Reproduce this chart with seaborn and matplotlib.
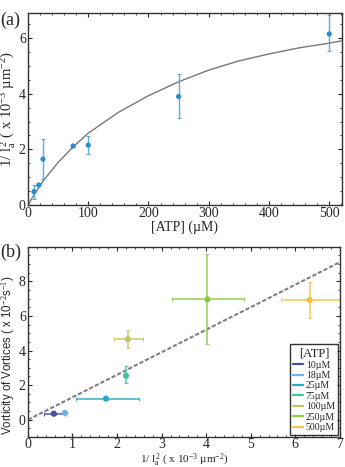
import numpy as np
import pandas as pd
import matplotlib
matplotlib.use("Agg")
import matplotlib.pyplot as plt
from matplotlib.ticker import MultipleLocator
import seaborn as sns

# ---- panel (a) data ----
atp = [10, 18, 25, 75, 100, 250, 500]
inv_la2 = [0.48, 0.72, 1.65, 2.12, 2.15, 3.90, 6.15]
inv_la2_err_lo = [0.25, 0.04, 0.70, 0.04, 0.30, 0.78, 0.60]
inv_la2_err_hi = [0.25, 0.04, 0.72, 0.04, 0.33, 0.80, 0.68]
fit_x = [0, 10, 25, 50, 75, 100, 150, 200, 250, 300, 350, 400, 450, 500, 520]
fit_y = [0, 0.36, 0.86, 1.53, 2.09, 2.58, 3.33, 3.93, 4.43, 4.85, 5.18, 5.43, 5.65, 5.82, 5.90]

# ---- panel (b) data ----
labels_b = ["10µM", "18µM", "25µM", "75µM", "100µM", "250µM", "500µM"]
colors_b = ["#4b4ba0", "#6ab4e6", "#2ba6c6", "#45c2a0", "#c2c46a", "#8acb45", "#f5c445"]
bx = [0.58, 0.83, 1.75, 2.20, 2.24, 4.03, 6.32]
by = [0.35, 0.40, 1.22, 2.55, 4.65, 6.95, 6.92]
bx_err_lo = [0.23, 0.02, 0.68, 0.02, 0.30, 0.80, 0.64]
bx_err_hi = [0.25, 0.02, 0.74, 0.02, 0.34, 0.82, 0.66]
by_err_lo = [0.05, 0.05, 0.05, 0.45, 0.50, 2.60, 1.02]
by_err_hi = [0.05, 0.05, 0.05, 0.55, 0.55, 2.65, 1.03]
line_x = [0, 7]
line_y = [0, 9.1]

sns.set_style("ticks")
plt.rcParams["font.family"] = ["Liberation Serif", "DejaVu Serif"]
plt.rcParams["mathtext.fontset"] = "custom"
plt.rcParams["mathtext.rm"] = "Liberation Serif"
plt.rcParams["mathtext.it"] = "Liberation Serif:italic"
plt.rcParams["xtick.direction"] = "in"
plt.rcParams["ytick.direction"] = "in"

fig = plt.figure(figsize=(3.45, 4.67), dpi=100)
ax1 = fig.add_axes([0.081, 0.561, 0.910, 0.411])
ax2 = fig.add_axes([0.081, 0.064, 0.904, 0.408])

# ---- (a) ----
dfa = pd.DataFrame({"atp": atp, "v": inv_la2})
dff = pd.DataFrame({"x": fit_x, "y": fit_y})
sns.lineplot(data=dff, x="x", y="y", ax=ax1, color="#777777", lw=1.0, zorder=2)
ax1.errorbar(atp, inv_la2, yerr=[inv_la2_err_lo, inv_la2_err_hi], fmt="none",
             ecolor="#52aee0", elinewidth=1.0, capsize=1.5, capthick=0.8, zorder=3)
sns.scatterplot(data=dfa, x="atp", y="v", ax=ax1, color="#2a8ccc", s=14,
                edgecolor="none", zorder=4)
ax1.set_xlim(0, 521)
ax1.set_ylim(0, 6.9)
ax1.xaxis.set_major_locator(MultipleLocator(100))
ax1.xaxis.set_minor_locator(MultipleLocator(20))
ax1.yaxis.set_major_locator(MultipleLocator(2))
ax1.yaxis.set_minor_locator(MultipleLocator(0.5))
ax1.set_xlabel("[ATP] (µM)", fontsize=10, labelpad=0)
ax1.set_ylabel(r"1/ l$_{\rm a}^{\,2}$ ( x 10$^{-3}$ µm$^{-2}$)", fontsize=10.5, labelpad=1)

# ---- (b) ----
sns.lineplot(x=line_x, y=line_y, ax=ax2, color="#808080", lw=1.5,
             linestyle=(0, (2, 1)), zorder=2)
handles = []
for i in range(len(bx)):
    ax2.errorbar([bx[i]], [by[i]], xerr=[[bx_err_lo[i]], [bx_err_hi[i]]],
                 yerr=[[by_err_lo[i]], [by_err_hi[i]]], fmt="none",
                 ecolor=colors_b[i], elinewidth=1.2, capsize=1.2, capthick=0.8,
                 alpha=0.85, zorder=3)
dfb = pd.DataFrame({"x": bx, "y": by, "c": labels_b})
sns.scatterplot(data=dfb, x="x", y="y", hue="c", palette=colors_b, ax=ax2,
                s=20, edgecolor="none", zorder=4, legend=False)
for i in range(len(bx)):
    handles.append(plt.Line2D([], [], color=colors_b[i], lw=1.6, label=labels_b[i]))
leg = ax2.legend(handles=handles, title="[ATP]", loc="lower right",
                 fontsize=7, title_fontsize=9, frameon=True, fancybox=False,
                 edgecolor="black", handlelength=1.0, handletextpad=0.3,
                 labelspacing=0.15, borderpad=0.3, borderaxespad=0.2)
leg.get_frame().set_linewidth(1.0)
ax2.set_xlim(0, 7)
ax2.set_ylim(-1, 10)
ax2.xaxis.set_major_locator(MultipleLocator(1))
ax2.xaxis.set_minor_locator(MultipleLocator(0.2))
ax2.yaxis.set_major_locator(MultipleLocator(2))
ax2.yaxis.set_minor_locator(MultipleLocator(0.5))
ax2.set_yticks([0, 2, 4, 6, 8])
ax2.set_xlabel(r"1/ l$_{\rm a}^{\,2}$ ( x 10$^{-3}$ µm$^{-2}$)", fontsize=8, labelpad=0.5)
ax2.set_ylabel(r"Vorticity of Vortices ( x 10$^{-2}$s$^{-1}$)", fontsize=8.3,
               family=["Liberation Sans", "DejaVu Sans"], labelpad=2)
ax2.yaxis.set_label_coords(-0.035, 0.43)

for ax in (ax1, ax2):
    ax.tick_params(which="both", top=True, right=True, labelsize=10, pad=1.5)
    ax.tick_params(which="major", length=3, width=0.8)
    ax.tick_params(which="minor", length=1.5, width=0.6)
    for s in ax.spines.values():
        s.set_linewidth(1.0)
        s.set_color("#333333")
ax2.tick_params(axis="x", which="both", pad=0.5)

fig.text(0.0, 0.975, "(a)", fontsize=13, va="top", ha="left")
fig.text(0.0, 0.478, "(b)", fontsize=13, va="top", ha="left")

fig.savefig("out.png", dpi=100)
